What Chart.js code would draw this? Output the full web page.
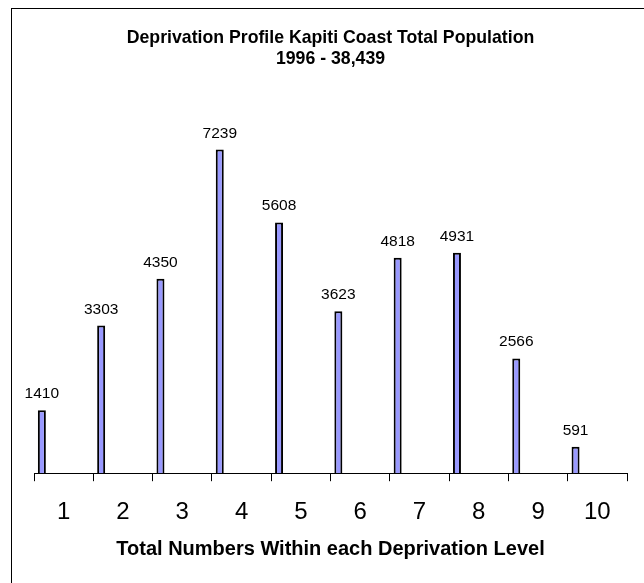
<!DOCTYPE html>
<html>
<head>
<meta charset="utf-8">
<script src="https://cdn.jsdelivr.net/npm/chart.js@4/dist/chart.umd.min.js"></script>
<style>
body { margin: 0; background: #fff; overflow: hidden; }
.frame { position: absolute; left: 11px; top: 8px; width: 700px; height: 700px; border: 1px solid #000; }
#chart { position: absolute; left: 0; top: 0; }
</style>
</head>
<body>
<div class="frame"></div>
<canvas id="chart" width="644" height="583"></canvas>
<script>
// deprivation levels and counts
const levels = ['1','2','3','4','5','6','7','8','9','10'];
const counts = [1410, 3303, 4350, 7239, 5608, 3623, 4818, 4931, 2566, 591];
const titleLines = ['Deprivation Profile Kapiti Coast Total Population', '1996 - 38,439'];
const xTitle = 'Total Numbers Within each Deprivation Level';

const FONT = "'Liberation Sans', Arial, sans-serif";

// value labels above the bars
const valueLabels = {
  id: 'valueLabels',
  afterDatasetsDraw(chart) {
    const c = chart.ctx;
    const meta = chart.getDatasetMeta(0);
    c.save();
    c.font = '15.5px ' + FONT;
    c.fillStyle = '#000';
    c.textAlign = 'center';
    c.textBaseline = 'alphabetic';
    meta.data.forEach((bar, i) => {
      c.fillText(String(counts[i]), bar.x, bar.y - 12);
    });
    c.restore();
  }
};

// empty series keep the real bar at the left of each level, like the original
const spacer = () => ({ label: '', data: [], backgroundColor: 'transparent' });

new Chart(document.getElementById('chart'), {
  type: 'bar',
  data: {
    labels: levels,
    datasets: [{
      label: 'Total',
      data: counts,
      backgroundColor: '#9999ff',
      borderColor: '#000',
      borderWidth: 2,
      borderSkipped: 'bottom'
    }, spacer(), spacer(), spacer()]
  },
  options: {
    responsive: false,
    animation: false,
    categoryPercentage: 0.98,
    barPercentage: 0.6,
    maxBarThickness: 8,
    layout: { padding: { left: 34, right: 17, top: 0, bottom: 22 } },
    plugins: {
      legend: { display: false },
      tooltip: { enabled: false },
      title: {
        display: true,
        text: titleLines,
        color: '#000',
        font: { family: FONT, size: 17.7, weight: 'bold', lineHeight: 1.2 },
        padding: { top: 27, bottom: 46 }
      }
    },
    scales: {
      x: {
        grid: { display: true, drawOnChartArea: false, offset: true, color: '#000', tickLength: 8, tickColor: '#000' },
        border: { display: true, color: '#000', width: 1 },
        ticks: { color: '#000', padding: 17, font: { family: FONT, size: 24 } },
        title: {
          display: true,
          text: xTitle,
          color: '#000',
          font: { family: FONT, size: 20, weight: 'bold', lineHeight: 1.2 },
          padding: { top: -7, bottom: 0 }
        }
      },
      y: {
        display: false,
        min: 0,
        max: 8000
      }
    }
  },
  plugins: [valueLabels]
});
</script>
</body>
</html>
